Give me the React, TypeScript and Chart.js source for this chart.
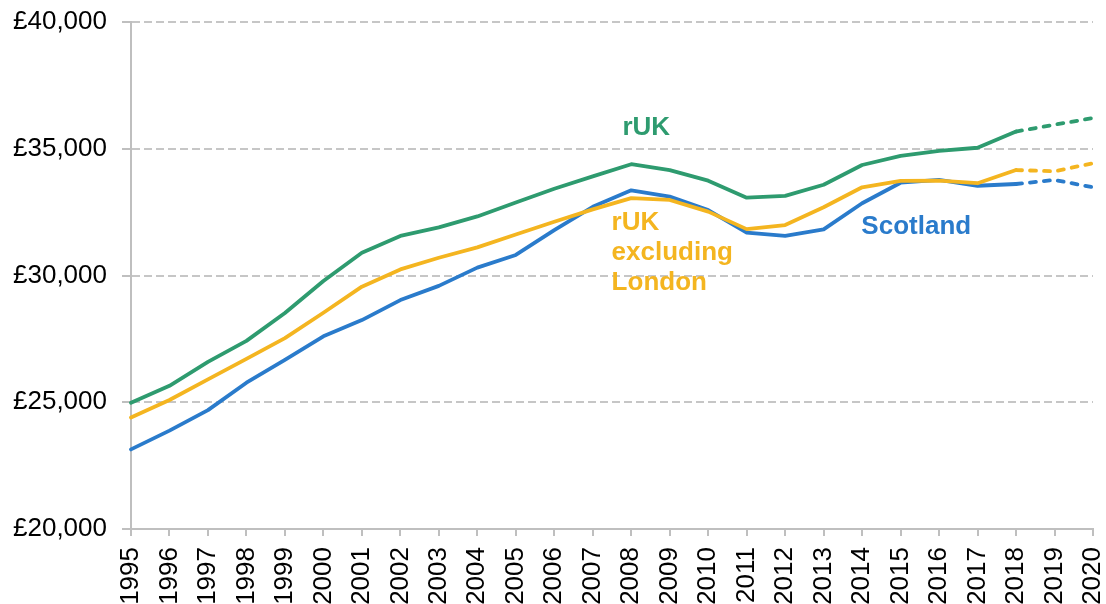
import React, { useEffect, useRef } from "react";
import { Chart, registerables } from "chart.js";

Chart.register(...registerables);

const years = ["1995","1996","1997","1998","1999","2000","2001","2002","2003","2004","2005","2006","2007","2008","2009","2010","2011","2012","2013","2014","2015","2016","2017","2018","2019","2020"];

const rUK = [24980,25650,26590,27420,28520,29780,30900,31560,31900,32330,32880,33420,33910,34390,34160,33740,33070,33140,33580,34360,34720,34920,35040,35680,35950,36210];
const rUKexLondon = [24400,25090,25900,26710,27530,28530,29560,30240,30700,31110,31620,32120,32610,33050,32980,32520,31830,31990,32690,33480,33730,33740,33640,34160,34110,34430];
const scotland = [23140,23880,24690,25770,26670,27600,28240,29030,29590,30310,30810,31790,32710,33360,33110,32580,31690,31560,31820,32850,33660,33770,33540,33610,33770,33480];

const forecastStartIndex = 23;

const GREEN = "#2e9b6f";
const YELLOW = "#f4b520";
const BLUE = "#2a7bcb";
const FONT = "'Liberation Sans', Arial, sans-serif";

const labelPlugin = {
  id: "seriesLabels",
  afterDatasetsDraw(chart: any) {
    const ctx = chart.ctx;
    const xs = chart.scales.x;
    const ys = chart.scales.y;
    const xAt = (v: number) => {
      const i = Math.floor(v);
      const f = v - i;
      const a = xs.getPixelForValue(i);
      const b = xs.getPixelForValue(i + 1);
      return a + (b - a) * f;
    };
    const items = [
      { text: "rUK", x: 12.77, y: 35820, color: GREEN },
      { text: "rUK", x: 12.49, y: 32070, color: YELLOW },
      { text: "excluding", x: 12.49, y: 30888, color: YELLOW },
      { text: "London", x: 12.49, y: 29704, color: YELLOW },
      { text: "Scotland", x: 18.98, y: 31925, color: BLUE },
    ];
    ctx.save();
    ctx.font = "bold 26px " + FONT;
    ctx.textAlign = "left";
    ctx.textBaseline = "middle";
    for (const it of items) {
      ctx.fillStyle = it.color;
      ctx.fillText(it.text, xAt(it.x), ys.getPixelForValue(it.y));
    }
    ctx.restore();
  },
};

export default function App() {
  const ref = useRef<HTMLCanvasElement | null>(null);
  useEffect(() => {
    if (!ref.current) return;
    const dash = (ctx: any) => (ctx.p0DataIndex >= forecastStartIndex ? [6, 8] : undefined);
    const mk = (label: string, data: number[], color: string) => ({
      label,
      data,
      borderColor: color,
      backgroundColor: color,
      borderWidth: 3.8,
      borderCapStyle: "round",
      borderJoinStyle: "round",
      pointRadius: 0,
      tension: 0,
      fill: false,
      segment: { borderDash: dash },
    });
    const chart = new Chart(ref.current, {
      type: "line",
      data: {
        labels: years,
        datasets: [
          mk("rUK", rUK, GREEN),
          mk("rUK excluding London", rUKexLondon, YELLOW),
          mk("Scotland", scotland, BLUE),
        ],
      },
      options: {
        responsive: false,
        animation: false,
        layout: { padding: { top: 22, right: 13, left: 0, bottom: 0 } },
        plugins: { legend: { display: false }, tooltip: { enabled: false } },
        scales: {
          x: {
            offset: false,
            grid: { drawOnChartArea: false, drawTicks: true, tickLength: 7, color: "#bfbfbf", lineWidth: 2 },
            border: { color: "#bfbfbf", width: 2 },
            ticks: {
              color: "#000",
              font: { family: FONT, size: 26 },
              minRotation: 90,
              maxRotation: 90,
              autoSkip: false,
              padding: 11,
            },
            afterFit: (s: any) => {
              s.height = 75;
              s.paddingLeft = 0;
              s.paddingRight = 0;
            },
          },
          y: {
            min: 20000,
            max: 40000,
            grid: {
              color: "#c6c6c6",
              lineWidth: 2,
              tickBorderDash: [],
              tickLength: 9,
              tickColor: "#bfbfbf",
              tickWidth: 2,
            },
            border: { color: "#bfbfbf", width: 2, dash: [8, 4] },
            ticks: {
              stepSize: 5000,
              color: "#000",
              padding: 15,
              font: { family: FONT, size: 26 },
              callback: (v: any) => "£" + Number(v).toLocaleString("en-GB"),
            },
            afterFit: (s: any) => {
              s.width = 131;
              s.paddingTop = 0;
              s.paddingBottom = 0;
            },
          },
        },
      },
      plugins: [labelPlugin],
    } as any);
    return () => chart.destroy();
  }, []);
  return (
    <div style={{ position: "fixed", left: 0, top: 0, width: 1106, height: 604, background: "#fff" }}>
      <canvas ref={ref} width={1106} height={604} />
    </div>
  );
}
